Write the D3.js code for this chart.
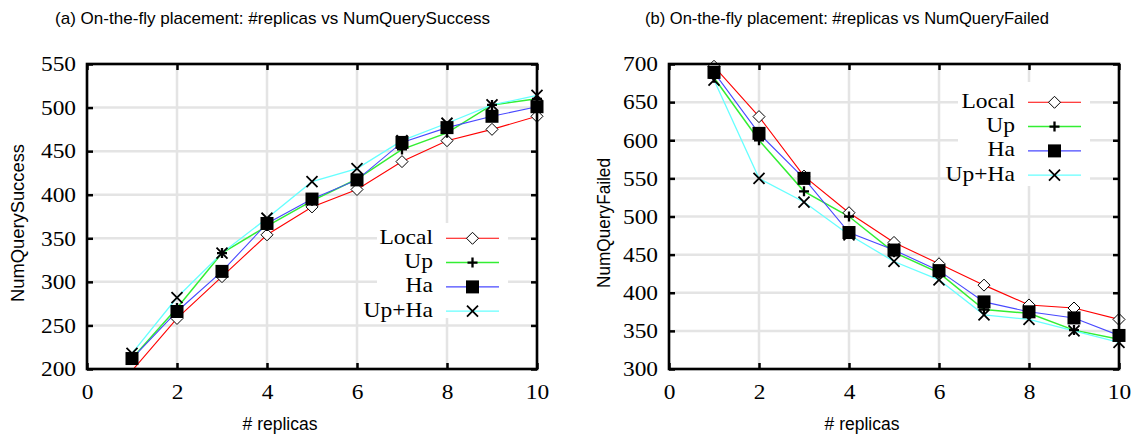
<!DOCTYPE html>
<html>
<head>
<meta charset="utf-8">
<script src="https://cdn.jsdelivr.net/npm/d3@7"></script>
<style>
  html, body { margin: 0; padding: 0; background: #fff; }
  svg { display: block; }
</style>
</head>
<body>
<svg id="chart" width="1136" height="436"></svg>
<script>
// ---- data -------------------------------------------------------------
const replicas = [1, 2, 3, 4, 5, 6, 7, 8, 9, 10];
const xTickValues = [0, 2, 4, 6, 8, 10];
const seriesNames = ["Local", "Up", "Ha", "Up+Ha"];

// (a) number of successful queries
const successTicks = [200, 250, 300, 350, 400, 450, 500, 550];
const successLocal = [198, 258, 306, 354, 386, 406, 438, 462, 475, 490];
const successUp    = [212, 270, 333, 364, 393, 418, 452, 471, 503, 510];
const successHa    = [212, 266, 312, 367, 395, 417, 460, 477, 490, 501];
const successUpHa  = [218, 282, 333, 373, 415, 430, 462, 482, 503, 514];

// (b) number of failed queries
const failedTicks = [300, 350, 400, 450, 500, 550, 600, 650, 700];
const failedLocal = [697, 631, 553, 505, 466, 438, 410, 384, 380, 365];
const failedUp    = [682, 600, 533, 500, 453, 426, 378, 373, 351, 339];
const failedHa    = [689, 609, 550, 479, 456, 429, 388, 375, 367, 344];
const failedUpHa  = [679, 550, 519, 476, 441, 417, 371, 365, 350, 335];

// ---- styles -----------------------------------------------------------
const SERIF = "'Liberation Serif', 'Times New Roman', serif";
const SANS = "'Liberation Sans', Arial, Helvetica, sans-serif";
const serifStretch = 1.17;

const seriesStyle = [
  { color: "#ff0000", width: 1.1, marker: "diamond" },
  { color: "#33ee33", width: 1.5, marker: "plus" },
  { color: "#4848ff", width: 1.1, marker: "square" },
  { color: "#66ffff", width: 1.3, marker: "cross" }
];

const panels = [
  {
    id: "a",
    title: "(a) On-the-fly placement: #replicas vs NumQuerySuccess",
    titleX: 272.5, titleW: 435,
    yLabel: "NumQuerySuccess", yLabelX: 24, yLabelW: 158,
    yTicks: successTicks,
    series: [successLocal, successUp, successHa, successUpHa],
    frame: { left: 87, right: 537, top: 64, bottom: 369 },
    key: { x0: 377, x1: 508, y0: 223, y1: 318, row0: 238.3 }
  },
  {
    id: "b",
    title: "(b) On-the-fly placement: #replicas vs NumQueryFailed",
    titleX: 847, titleW: 404,
    yLabel: "NumQueryFailed", yLabelX: 610, yLabelW: 130,
    yTicks: failedTicks,
    series: [failedLocal, failedUp, failedHa, failedUpHa],
    frame: { left: 669, right: 1119, top: 64, bottom: 369 },
    key: { x0: 958, x1: 1090, y0: 82, y1: 186, row0: 102.3 }
  }
];

const svg = d3.select("#chart");
const defs = svg.append("defs");

function drawMarker(g, type) {
  if (type === "diamond") {
    g.append("path").attr("d", "M0,-6L6,0L0,6L-6,0Z")
      .attr("fill", "#fff").attr("stroke", "#000").attr("stroke-width", 1);
  } else if (type === "plus") {
    g.append("path").attr("d", "M-5,0H5M0,-5V5")
      .attr("stroke", "#000").attr("stroke-width", 2.3).attr("fill", "none");
  } else if (type === "square") {
    g.append("rect").attr("x", -6.5).attr("y", -6.5).attr("width", 13).attr("height", 13)
      .attr("fill", "#000");
  } else {
    g.append("path").attr("d", "M-5.5,-5.5L5.5,5.5M5.5,-5.5L-5.5,5.5")
      .attr("stroke", "#000").attr("stroke-width", 1.8).attr("fill", "none");
  }
}

panels.forEach(p => {
  const f = p.frame;
  const x = d3.scaleLinear().domain([0, 10]).range([f.left, f.right]);
  const yDomain = [p.yTicks[0], p.yTicks[p.yTicks.length - 1]];
  const y = d3.scaleLinear().domain(yDomain).range([f.bottom, f.top]);

  defs.append("clipPath").attr("id", `clip-${p.id}`)
    .append("rect")
    .attr("x", f.left).attr("y", f.top)
    .attr("width", f.right - f.left).attr("height", f.bottom - f.top);

  const panel = svg.append("g");

  // grid
  const grid = panel.append("g").attr("stroke", "#e4e4e4").attr("stroke-width", 2.5);
  grid.selectAll(".gy").data(p.yTicks).join("line")
    .attr("x1", f.left).attr("x2", f.right)
    .attr("y1", d => y(d)).attr("y2", d => y(d));
  grid.selectAll(".gx").data(xTickValues).join("line")
    .attr("y1", f.top).attr("y2", f.bottom)
    .attr("x1", d => x(d)).attr("x2", d => x(d));

  // opaque key background
  const k = p.key;
  panel.append("rect")
    .attr("x", k.x0).attr("y", k.y0)
    .attr("width", k.x1 - k.x0).attr("height", k.y1 - k.y0)
    .attr("fill", "#fff");

  // series: line then points, in drawing order; clipped to the plot area
  const plot = panel.append("g").attr("clip-path", `url(#clip-${p.id})`);
  const line = d3.line().x((d, i) => x(replicas[i])).y(d => y(d));
  p.series.forEach((vals, si) => {
    const st = seriesStyle[si];
    plot.append("path").datum(vals)
      .attr("d", line)
      .attr("fill", "none")
      .attr("stroke", st.color)
      .attr("stroke-width", st.width);
    const pts = panel.append("g");
    vals.forEach((v, i) => {
      if (v < yDomain[0] || v > yDomain[1]) return; // out of range: not plotted
      const m = pts.append("g").attr("transform", `translate(${x(replicas[i])},${y(v)})`);
      drawMarker(m, st.marker);
    });
  });

  // key entries
  seriesNames.forEach((name, si) => {
    const st = seriesStyle[si];
    const ry = k.row0 + si * 24.3;
    panel.append("text")
      .attr("transform", `translate(${k.x1 - 75},${ry + 5.5}) scale(1.12,1)`)
      .attr("text-anchor", "end")
      .attr("font-family", SERIF).attr("font-size", 21)
      .text(name);
    panel.append("line")
      .attr("x1", k.x1 - 62).attr("x2", k.x1 - 9)
      .attr("y1", ry).attr("y2", ry)
      .attr("stroke", st.color).attr("stroke-width", st.width);
    const m = panel.append("g").attr("transform", `translate(${k.x1 - 35.5},${ry})`);
    drawMarker(m, st.marker);
  });

  // frame ticks (inward) on all four sides
  const tickStyle = sel => {
    sel.select(".domain").remove();
    sel.selectAll(".tick line").attr("stroke", "#000").attr("stroke-width", 2.5);
  };
  panel.append("g").attr("transform", `translate(${f.left},0)`)
    .call(d3.axisLeft(y).tickValues(p.yTicks).tickSize(-6).tickPadding(11))
    .call(tickStyle)
    .call(g => g.selectAll("text")
      .attr("font-family", SERIF).attr("font-size", 20).attr("fill", "#000")
      .attr("x", -11 / serifStretch).attr("dy", "0.34em")
      .attr("transform", `scale(${serifStretch},1)`));
  panel.append("g").attr("transform", `translate(${f.right},0)`)
    .call(d3.axisRight(y).tickValues(p.yTicks).tickSize(-6).tickFormat(""))
    .call(tickStyle);
  panel.append("g").attr("transform", `translate(0,${f.bottom})`)
    .call(d3.axisBottom(x).tickValues(xTickValues).tickSize(-6))
    .call(tickStyle)
    .call(g => g.selectAll("text")
      .attr("font-family", SERIF).attr("font-size", 20).attr("fill", "#000")
      .attr("y", 30).attr("dy", 0)
      .attr("transform", `scale(${serifStretch},1)`));
  panel.append("g").attr("transform", `translate(0,${f.top})`)
    .call(d3.axisTop(x).tickValues(xTickValues).tickSize(-6).tickFormat(""))
    .call(tickStyle);

  // frame
  panel.append("rect")
    .attr("x", f.left).attr("y", f.top)
    .attr("width", f.right - f.left).attr("height", f.bottom - f.top)
    .attr("fill", "none").attr("stroke", "#000").attr("stroke-width", 2.6);

  // titles and axis labels
  panel.append("text")
    .attr("x", p.titleX).attr("y", 24)
    .attr("text-anchor", "middle")
    .attr("font-family", SANS).attr("font-size", 17)
    .attr("textLength", p.titleW).attr("lengthAdjust", "spacingAndGlyphs")
    .text(p.title);
  panel.append("text")
    .attr("x", f.left + 193).attr("y", 430)
    .attr("text-anchor", "middle")
    .attr("font-family", SANS).attr("font-size", 17.5)
    .text("# replicas");
  panel.append("text")
    .attr("transform", `translate(${p.yLabelX},223) rotate(-90)`)
    .attr("text-anchor", "middle")
    .attr("font-family", SANS).attr("font-size", 17.5)
    .attr("textLength", p.yLabelW).attr("lengthAdjust", "spacingAndGlyphs")
    .text(p.yLabel);
});
</script>
</body>
</html>
